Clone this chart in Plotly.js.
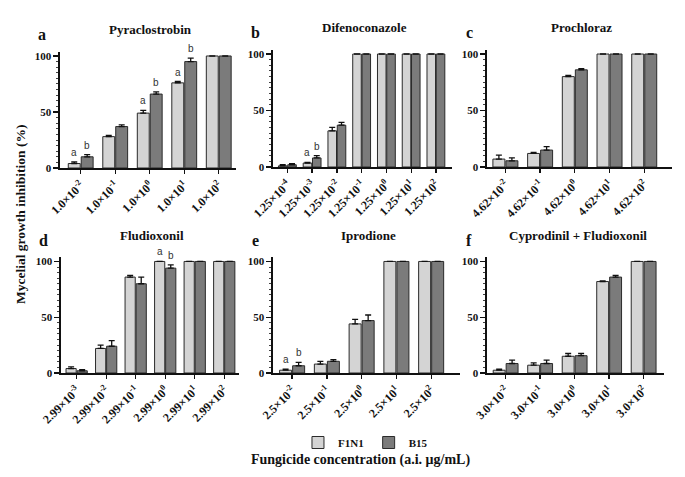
<!DOCTYPE html>
<html>
<head>
<meta charset="utf-8">
<script src="https://cdn.plot.ly/plotly-3.0.1.min.js"></script>
<style>html,body{margin:0;padding:0;background:#fff;}#chart{width:685px;height:477px;}</style>
</head>
<body>
<div id="chart"></div>
<script>
// ---------- data ----------
const strains = ['F1N1', 'B15'];

const pyraConc = ['1.0×10<sup>-2</sup>', '1.0×10<sup>-1</sup>', '1.0×10<sup>0</sup>', '1.0×10<sup>1</sup>', '1.0×10<sup>2</sup>'];
const pyraF1N1 = [4, 28, 49, 76, 100];
const pyraF1N1Err = [1.5, 1, 2.5, 1.2, 0];
const pyraB15 = [10, 37, 66, 95, 100];
const pyraB15Err = [2, 1.5, 2, 3, 0];
const pyraLetters = [['a', 'b'], null, ['a', 'b'], ['a', 'b'], null];

const difeConc = ['1.25×10<sup>-4</sup>', '1.25×10<sup>-3</sup>', '1.25×10<sup>-2</sup>', '1.25×10<sup>-1</sup>', '1.25×10<sup>0</sup>', '1.25×10<sup>1</sup>', '1.25×10<sup>2</sup>'];
const difeF1N1 = [1, 3.5, 32, 100, 100, 100, 100];
const difeF1N1Err = [1, 0.5, 3, 0, 0, 0, 0];
const difeB15 = [2, 8, 37, 100, 100, 100, 100];
const difeB15Err = [1, 2, 2.5, 0, 0, 0, 0];
const difeLetters = [null, ['a', 'b'], null, null, null, null, null];

const prochConc = ['4.62×10<sup>-2</sup>', '4.62×10<sup>-1</sup>', '4.62×10<sup>0</sup>', '4.62×10<sup>1</sup>', '4.62×10<sup>2</sup>'];
const prochF1N1 = [7, 12, 80, 100, 100];
const prochF1N1Err = [3.5, 1, 1, 0, 0];
const prochB15 = [5.5, 15, 86, 100, 100];
const prochB15Err = [2.5, 3, 1, 0, 0];
const prochLetters = [null, null, null, null, null];

const fludConc = ['2.99×10<sup>-3</sup>', '2.99×10<sup>-2</sup>', '2.99×10<sup>-1</sup>', '2.99×10<sup>0</sup>', '2.99×10<sup>1</sup>', '2.99×10<sup>2</sup>'];
const fludF1N1 = [4, 22, 86, 100, 100, 100];
const fludF1N1Err = [1.5, 3, 1.5, 0, 0, 0];
const fludB15 = [2, 24, 80, 94, 100, 100];
const fludB15Err = [1, 5, 6, 3, 0, 0];
const fludLetters = [null, null, null, ['a', 'b'], null, null];

const iproConc = ['2.5×10<sup>-2</sup>', '2.5×10<sup>-1</sup>', '2.5×10<sup>0</sup>', '2.5×10<sup>1</sup>', '2.5×10<sup>2</sup>'];
const iproF1N1 = [2.5, 8, 44, 100, 100];
const iproF1N1Err = [1, 2.5, 4, 0, 0];
const iproB15 = [6.5, 10.5, 47, 100, 100];
const iproB15Err = [3, 1.5, 5, 0, 0];
const iproLetters = [['a', 'b'], null, null, null, null];

const cypConc = ['3.0×10<sup>-2</sup>', '3.0×10<sup>-1</sup>', '3.0×10<sup>0</sup>', '3.0×10<sup>1</sup>', '3.0×10<sup>2</sup>'];
const cypF1N1 = [2.5, 7, 15, 82, 100];
const cypF1N1Err = [1, 2, 2.5, 0.5, 0];
const cypB15 = [8.5, 8.5, 15.5, 86, 100];
const cypB15Err = [3, 3, 2, 1.5, 0];
const cypLetters = [null, null, null, null, null];

const panelTitles = ['Pyraclostrobin', 'Difenoconazole', 'Prochloraz', 'Fludioxonil', 'Iprodione', 'Cyprodinil + Fludioxonil'];
const panelLetters = ['a', 'b', 'c', 'd', 'e', 'f'];

// ---------- layout geometry ----------
const W = 685, H = 477;
const SERIF = 'Liberation Serif, Times New Roman, serif';
const colors = ['#d4d4d4', '#7b7b7b'];
const BARGAP = 0.25;

const panels = [
  {conc: pyraConc, f: pyraF1N1, fe: pyraF1N1Err, b: pyraB15, be: pyraB15Err, let: pyraLetters, x: [60, 236], y: [51.5, 168], range: [-0.6, 4.5]},
  {conc: difeConc, f: difeF1N1, fe: difeF1N1Err, b: difeB15, be: difeB15Err, let: difeLetters, x: [273, 452], y: [49.5, 167], range: [-0.58, 6.65]},
  {conc: prochConc, f: prochF1N1, fe: prochF1N1Err, b: prochB15, be: prochB15Err, let: prochLetters, x: [487, 672], y: [49.5, 167], range: [-0.53, 4.8]},
  {conc: fludConc, f: fludF1N1, fe: fludF1N1Err, b: fludB15, be: fludB15Err, let: fludLetters, x: [61, 239], y: [257, 373], range: [-0.53, 5.5]},
  {conc: iproConc, f: iproF1N1, fe: iproF1N1Err, b: iproB15, be: iproB15Err, let: iproLetters, x: [273, 460], y: [257, 373], range: [-0.55, 4.83]},
  {conc: cypConc, f: cypF1N1, fe: cypF1N1Err, b: cypB15, be: cypB15Err, let: cypLetters, x: [487, 664], y: [257, 373], range: [-0.54, 4.59]}
];

const traces = [];
const layout = {
  width: W, height: H,
  margin: {l: 0, r: 0, t: 0, b: 0},
  paper_bgcolor: '#fff', plot_bgcolor: '#fff',
  barmode: 'group', bargap: BARGAP, bargroupgap: 0.08,
  showlegend: true,
  legend: {orientation: 'h', x: 0.435, y: 1 - 428 / H, xanchor: 'left', yanchor: 'top',
           font: {family: SERIF, size: 11, color: '#111'}, itemwidth: 30, tracegroupgap: 0},
  annotations: [], shapes: []
};

panels.forEach((p, i) => {
  const n = i + 1;
  const xa = n === 1 ? 'x' : 'x' + n, ya = n === 1 ? 'y' : 'y' + n;
  const labels = p.conc.map(s => '<b>' + s + '</b>');
  const series = [[p.f, p.fe], [p.b, p.be]];
  series.forEach((s, k) => {
    traces.push({
      type: 'bar', x: labels, y: s[0], name: '<b>' + strains[k] + '</b>',
      xaxis: xa, yaxis: ya, showlegend: i === 0, legendgroup: strains[k],
      marker: {color: colors[k], line: {color: '#2a2a2a', width: 1}},
      error_y: {type: 'data', symmetric: false, array: s[1], arrayminus: s[1].map(() => 0),
                color: '#111', thickness: 1.3, width: 3},
      hoverinfo: 'skip'
    });
  });
  const xKey = n === 1 ? 'xaxis' : 'xaxis' + n, yKey = n === 1 ? 'yaxis' : 'yaxis' + n;
  layout[xKey] = {
    domain: [p.x[0] / W, p.x[1] / W], anchor: ya, type: 'category', range: p.range,
    showline: true, linecolor: '#111', linewidth: 1.6, ticks: 'outside', ticklen: 4, tickwidth: 1.3, tickcolor: '#111',
    tickangle: -45, tickfont: {family: SERIF, size: 12, color: '#111'}, showgrid: false, zeroline: false, fixedrange: true
  };
  layout[yKey] = {
    domain: [1 - p.y[1] / H, 1 - p.y[0] / H], anchor: xa, range: [0, 104],
    tickvals: [0, 50, 100], ticktext: ['<b>0</b>', '<b>50</b>', '<b>100</b>'],
    showline: true, linecolor: '#111', linewidth: 1.6, ticks: 'outside', ticklen: 5, tickwidth: 1.3, tickcolor: '#111',
    minor: {dtick: 5, ticks: 'outside', ticklen: 2.5, tickwidth: 0.8, tickcolor: '#111', showgrid: false},
    tickfont: {family: SERIF, size: 11, color: '#111'}, showgrid: false, zeroline: false, fixedrange: true
  };
  // panel title
  layout.annotations.push({
    xref: 'paper', yref: 'paper', x: ((p.x[0] + p.x[1]) / 2 + 2) / W, y: 1 - (p.y[0] - 22) / H,
    text: '<b>' + panelTitles[i] + '</b>', showarrow: false, xanchor: 'center', yanchor: 'middle',
    font: {family: SERIF, size: 13, color: '#111'}
  });
  // panel letter
  layout.annotations.push({
    xref: 'paper', yref: 'paper', x: (p.x[0] - 18) / W, y: 1 - (p.y[0] - 17) / H,
    text: '<b>' + panelLetters[i] + '</b>', showarrow: false, xanchor: 'center', yanchor: 'middle',
    font: {family: SERIF, size: 16, color: '#111'}
  });
  // significance letters
  const bandPx = (p.x[1] - p.x[0]) / (p.range[1] - p.range[0]);
  const off = bandPx * (1 - BARGAP) / 4;
  p.let.forEach((pair, j) => {
    if (!pair) return;
    [[p.f[j] + p.fe[j], -off], [p.b[j] + p.be[j], off]].forEach((v, k) => {
      layout.annotations.push({
        xref: xa, yref: ya, x: labels[j], y: v[0], xshift: v[1], yshift: 2,
        text: pair[k], showarrow: false, xanchor: 'center', yanchor: 'bottom',
        font: {family: 'Liberation Sans, Arial, sans-serif', size: 10, color: '#333'}
      });
    });
  });
});

// global axis titles
layout.annotations.push({
  xref: 'paper', yref: 'paper', x: 20 / W, y: 1 - 215 / H, textangle: -90,
  text: '<b>Mycelial growth inhibition (%)</b>', showarrow: false, xanchor: 'center', yanchor: 'middle',
  font: {family: SERIF, size: 13.5, color: '#111'}
});
layout.annotations.push({
  xref: 'paper', yref: 'paper', x: 360 / W, y: 1 - 460 / H,
  text: '<b>Fungicide concentration (a.i. μg/mL)</b>', showarrow: false, xanchor: 'center', yanchor: 'middle',
  font: {family: SERIF, size: 14, color: '#111'}
});

Plotly.newPlot('chart', traces, layout, {staticPlot: true, displayModeBar: false});
</script>
</body>
</html>
